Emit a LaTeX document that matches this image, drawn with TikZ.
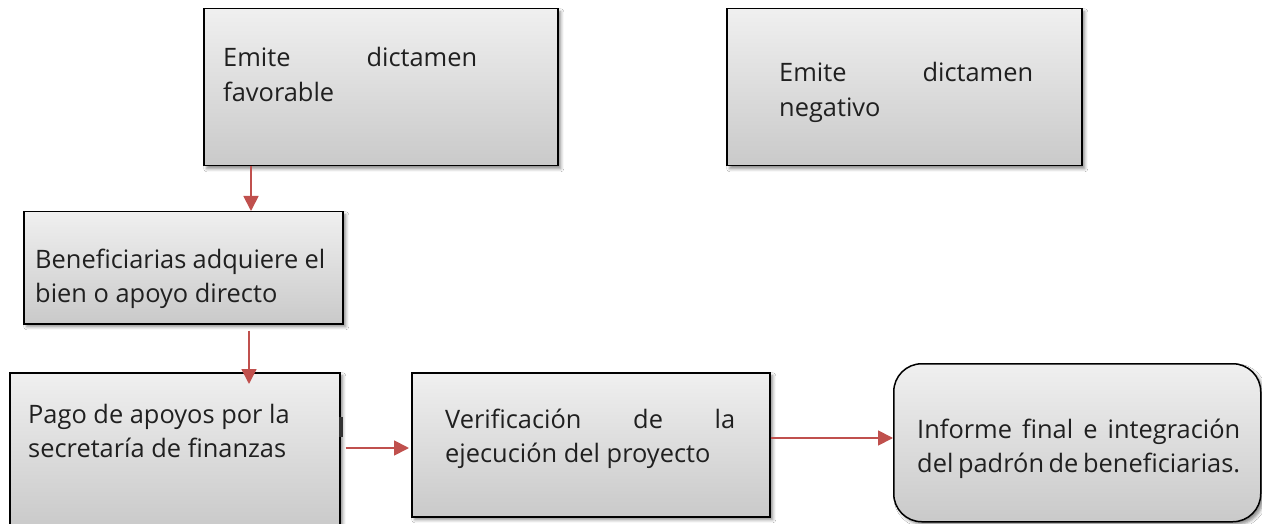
\documentclass[tikz,border=0pt]{standalone}
\usepackage{fontspec}
\setmainfont{Open Sans}
\usetikzlibrary{arrows.meta,shadows.blur}
\definecolor{arrred}{HTML}{C0504D}
\definecolor{txtgray}{HTML}{202020}
\begin{document}
\begin{tikzpicture}[x=1pt,y=-1pt,
 box/.style={draw=black, line width=1.5pt, top color=gray!12, bottom color=gray!42,
   blur shadow={shadow xshift=3pt,shadow yshift=-3pt,shadow blur radius=3pt,shadow opacity=45},
   inner sep=0pt, anchor=north west},
 txt/.style={anchor=base west, inner sep=0pt, text=txtgray},
 arr/.style={draw=arrred, line width=1.8pt, -{Triangle[length=15pt,width=15pt]}}]
\useasboundingbox (0,0) rectangle (1262,524);
\clip (0,0) rectangle (1262,524);
\fill[white] (0,0) rectangle (1262,524);
% boxes
\node[box, minimum width=354pt, minimum height=157pt] (b1) at (203,8) {};
\node[box, minimum width=355pt, minimum height=157pt] (b2) at (726,8) {};
\node[box, minimum width=319pt, minimum height=112pt] (b3) at (23,211) {};
\node[box, minimum width=330pt, minimum height=155pt] (b4) at (9,372) {};
\node[box, minimum width=358pt, minimum height=144pt] (b5) at (411,372) {};
\node[box, rounded corners=28pt, minimum width=367pt, minimum height=158pt] (b6) at (893,363) {};
\fill[black!80] (339,417) rectangle (343,437);
% texts
\newcommand\tf{\fontsize{25.4}{34.5}\selectfont}
\node[txt] (t1) at (223,67) {\tf\parbox[t]{254pt}{Emite\hfill dictamen\\favorable}};
\node[txt] (t2) at (779,82) {\tf\parbox[t]{254pt}{Emite\hfill dictamen\\negativo}};
\node[txt] (t3) at (35,268) {\tf\parbox[t]{290pt}{Beneficiarias\hfill adquiere\hfill el\\bien o apoyo directo}};
\node[txt] (t4) at (28,423) {\tf\parbox[t]{300pt}{Pago de apoyos por la\\secretaría de finanzas}};
\node[txt] (t5) at (445,428) {\tf\parbox[t]{290pt}{Verificación\hfill de\hfill la\\ejecución del proyecto}};
\node[txt] (t6) at (917,438) {\tf\parbox[t]{323pt}{Informe\hfill final\hfill e\hfill integración\\del padrón de beneficiarias.}};
% connectors
\draw[arr] ([shift={(48,0)}]b1.south west) -- ([shift={(48,0)}]b1.south west |- b3.north);
\draw[arr] ([shift={(226,6)}]b3.south west) -- ([shift={(240,12)}]b4.north west);
\draw[arr] ([shift={(5,76)}]b4.north east) -- ([shift={(-2,76)}]b5.north west);
\path ([shift={(0,66)}]b5.north east) coordinate (p5);
\draw[arr] (p5) -- (p5 -| b6.west);
\end{tikzpicture}
\end{document}
